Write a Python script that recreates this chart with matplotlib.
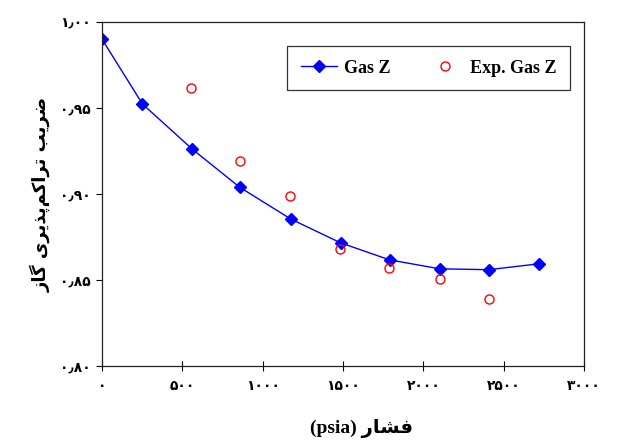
import matplotlib
matplotlib.use("Agg")
import matplotlib.pyplot as plt
from matplotlib.ticker import FuncFormatter, MultipleLocator

# داده‌ها
p_calc = [0, 252, 563, 856, 1174, 1485, 1790, 2102, 2407, 2718]
z_calc = [0.990, 0.9523, 0.926, 0.904, 0.8855, 0.8716, 0.8617, 0.8565, 0.856, 0.8594]

p_exp = [557, 856, 1168, 1479, 1784, 2102, 2407]
z_exp = [0.9617, 0.919, 0.899, 0.868, 0.857, 0.8507, 0.839]

x_title = "فشار"
y_title = "ضریب تراکم‌پذیری گاز"

# شکل‌دهی ساده حروف فارسی (matplotlib خودش متن راست‌به‌چپ را نمی‌چیند)
FORMS = {
    'ض': (0xFEBD, 0xFEBE, 0xFEBF, 0xFEC0),
    'ر': (0xFEAD, 0xFEAE, 0xFEAD, 0xFEAE),
    'ی': (0xFBFC, 0xFBFD, 0xFBFE, 0xFBFF),
    'ب': (0xFE8F, 0xFE90, 0xFE91, 0xFE92),
    'ت': (0xFE95, 0xFE96, 0xFE97, 0xFE98),
    'ا': (0xFE8D, 0xFE8E, 0xFE8D, 0xFE8E),
    'ک': (0xFB8E, 0xFB8F, 0xFB90, 0xFB91),
    'م': (0xFEE1, 0xFEE2, 0xFEE3, 0xFEE4),
    'پ': (0xFB56, 0xFB57, 0xFB58, 0xFB59),
    'ذ': (0xFEAB, 0xFEAC, 0xFEAB, 0xFEAC),
    'گ': (0xFB92, 0xFB93, 0xFB94, 0xFB95),
    'ز': (0xFEAF, 0xFEB0, 0xFEAF, 0xFEB0),
    'ف': (0xFED1, 0xFED2, 0xFED3, 0xFED4),
    'ش': (0xFEB5, 0xFEB6, 0xFEB7, 0xFEB8),
}
NO_LEFT = set('ارزذدو')


def shape(s):
    out = []
    for i, c in enumerate(s):
        if c not in FORMS:
            out.append(c)
            continue
        prev = s[i - 1] if i > 0 else None
        nxt = s[i + 1] if i + 1 < len(s) else None
        jp = prev in FORMS and prev not in NO_LEFT
        jn = nxt in FORMS and c not in NO_LEFT
        f = FORMS[c]
        if jp and jn:
            g = f[3]
        elif jp:
            g = f[1]
        elif jn:
            g = f[2]
        else:
            g = f[0]
        out.append(chr(g))
    return ''.join(out).replace('\u200c', '')[::-1]


FA_DIGITS = str.maketrans('0123456789.', '۰۱۲۳۴۵۶۷۸۹٫')


def fa_x(v, pos):
    return str(int(round(v))).translate(FA_DIGITS)


def fa_y(v, pos):
    return f"{v:.2f}".translate(FA_DIGITS)


fig = plt.figure(figsize=(6.3, 4.41), dpi=100)
ax = fig.add_axes([102 / 630, 75 / 441, 482 / 630, 344 / 441])

ax.plot(p_calc, z_calc, color='#0000FF', linewidth=1, marker='D', markersize=6,
        markerfacecolor='#0000FF', markeredgecolor='#0000FF', label='Gas Z')
ax.plot(p_exp, z_exp, linestyle='none', marker='o', markersize=6.5,
        markerfacecolor='none', markeredgecolor='#FF0000', markeredgewidth=1,
        label='Exp. Gas Z')

ax.set_xlim(0, 3000)
ax.set_ylim(0.80, 1.00)
ax.xaxis.set_major_locator(MultipleLocator(500))
ax.yaxis.set_major_locator(MultipleLocator(0.05))
ax.xaxis.set_major_formatter(FuncFormatter(fa_x))
ax.yaxis.set_major_formatter(FuncFormatter(fa_y))
ax.tick_params(axis='x', direction='inout', length=7, width=0.8, pad=6)
ax.tick_params(axis='y', direction='out', length=4, width=0.8, pad=4)
for lab in ax.get_xticklabels() + ax.get_yticklabels():
    lab.set_fontfamily('DejaVu Sans')
    lab.set_fontweight('bold')
    lab.set_fontsize(10)
for sp in ax.spines.values():
    sp.set_linewidth(0.9)
    sp.set_color('#222222')

leg = ax.legend(loc='upper right', bbox_to_anchor=(0.971, 0.930), ncol=2,
                prop={'family': 'Liberation Serif', 'weight': 'bold', 'size': 13},
                frameon=True, fancybox=False, framealpha=1, edgecolor='#333333',
                borderpad=0.75, handlelength=2.0, handletextpad=0.4,
                columnspacing=2.0, borderaxespad=0)
leg.get_frame().set_linewidth(0.9)

fig.text(40 / 630, 1 - 194 / 441, shape(y_title), rotation=90, ha='center', va='center',
         fontsize=13, fontweight='bold', family='DejaVu Sans')
fig.text(361 / 630, 1 - 428 / 441, "(psia) " + shape(x_title), ha='center', va='center',
         fontsize=14, fontweight='bold', family=['Liberation Serif', 'DejaVu Sans'])

fig.savefig('out.png', dpi=100)
